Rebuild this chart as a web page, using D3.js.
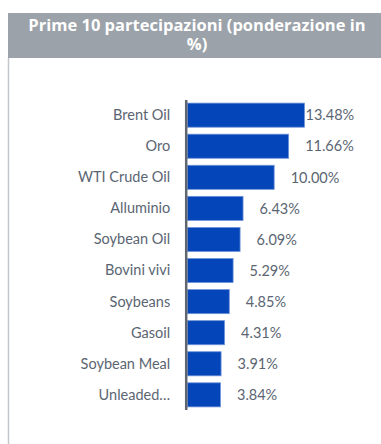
<!DOCTYPE html>
<html><head><meta charset="utf-8">
<script src="https://cdn.jsdelivr.net/npm/d3@7"></script>
<style>
html,body{margin:0;padding:0;background:#fff;}
body{position:relative;width:381px;height:444px;overflow:hidden;}
svg{display:block;position:absolute;left:0;top:0;}
#title{position:absolute;left:22px;top:15px;width:350px;
  text-align:center;color:#fff;font-family:'Open Sans',sans-serif;font-weight:bold;font-size:16.5px;line-height:19px;white-space:normal;}
</style>
</head><body>
<script>
const categories = ["Brent Oil","Oro","WTI Crude Oil","Alluminio","Soybean Oil","Bovini vivi","Soybeans","Gasoil","Soybean Meal","Unleaded…"];
const values = [13.48,11.66,10.00,6.43,6.09,5.29,4.85,4.31,3.91,3.84];
const valueLabels = ["13.48%","11.66%","10.00%","6.43%","6.09%","5.29%","4.85%","4.31%","3.91%","3.84%"];
const titleText = "Prime 10 partecipazioni (ponderazione in %)";

const W = 381, H = 444;
const svg = d3.select("body").append("svg").attr("width", W).attr("height", H);
const font = "Lato, 'Source Sans Pro', sans-serif";

// panel frame
svg.append("rect").attr("x", 8).attr("y", 13).attr("width", W - 8).attr("height", 45).attr("fill", "#9ba2a9");
svg.append("line").attr("x1", 8.5).attr("x2", 8.5).attr("y1", 58).attr("y2", H).attr("stroke", "#c3c7cb").attr("stroke-width", 1.5);

d3.select("body").append("div").attr("id", "title").text(titleText);

const x0 = 187;
const x = d3.scaleLinear().domain([0, 13.48]).range([x0, 304.5]);
const y = d3.scaleBand().domain(categories).range([100, 410]).paddingInner(0.225).paddingOuter(0.1);

svg.selectAll("rect.bar").data(values).join("rect")
  .attr("class", "bar")
  .attr("x", x0 + 0.5)
  .attr("y", (d, i) => y(categories[i]))
  .attr("width", d => x(d) - x0 - 0.5)
  .attr("height", y.bandwidth())
  .attr("fill", "#0445b9").attr("stroke", "#6f94d8").attr("stroke-width", 0.8);

const yAxis = d3.axisLeft(y).tickSize(0).tickPadding(16);
const g = svg.append("g").attr("transform", `translate(${x0 - 0.8},0)`).call(yAxis);
g.select(".domain").attr("stroke", "#5f6670").attr("stroke-width", 2.5).attr("d", "M0,100V410");
g.selectAll("text").attr("font-family", font).attr("font-size", 14.5).attr("fill", "#5b6572").attr("dy", "0.34em");

svg.selectAll("text.val").data(values).join("text")
  .attr("class", "val")
  .attr("x", d => Math.min(x(d) + 16.5, 305.5))
  .attr("y", (d, i) => y(categories[i]) + y.bandwidth() / 2)
  .attr("dy", "0.36em")
  .attr("font-family", font).attr("font-size", 14.5).attr("fill", "#5b6572")
  .text((d, i) => valueLabels[i]);
</script>
</body></html>
